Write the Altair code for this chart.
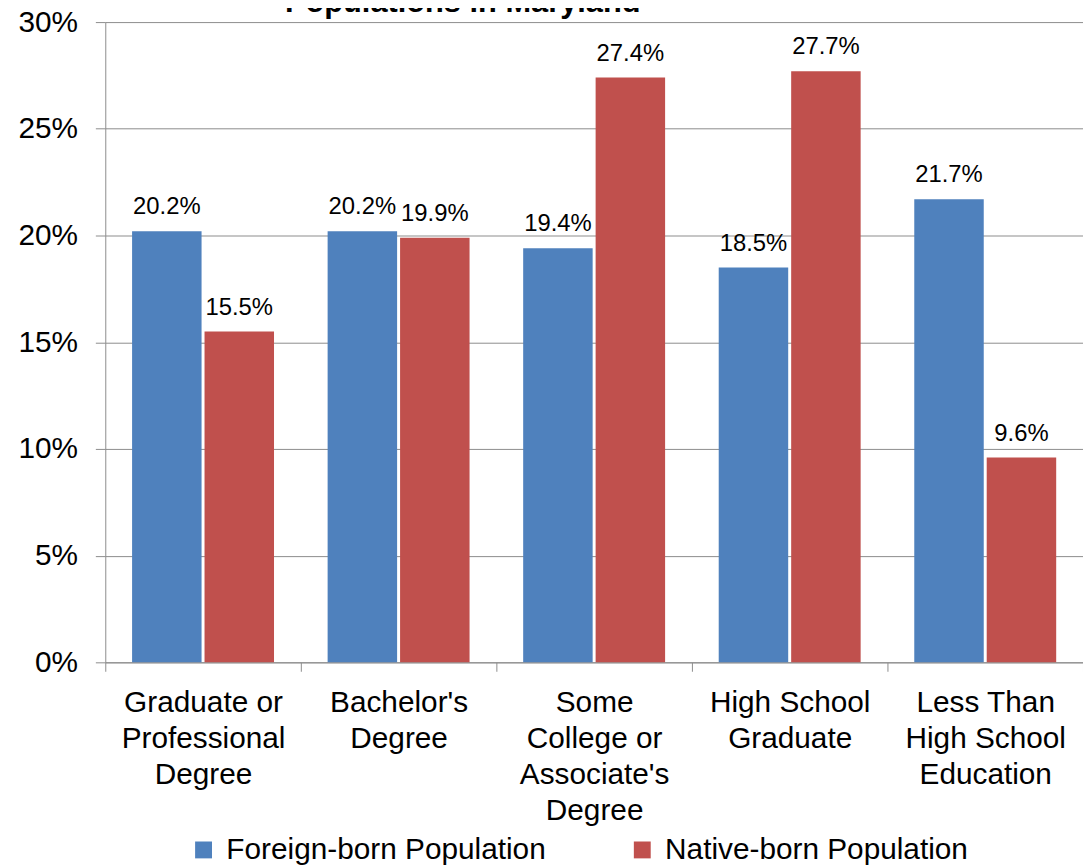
import altair as alt
import pandas as pd

title_text = ["Populations in Maryland"]
categories = [
    "Graduate or\nProfessional\nDegree",
    "Bachelor's\nDegree",
    "Some\nCollege or\nAssociate's\nDegree",
    "High School\nGraduate",
    "Less Than\nHigh School\nEducation",
]
series = ["Foreign-born Population", "Native-born Population"]
foreign = [20.2, 20.2, 19.4, 18.5, 21.7]
native = [15.5, 19.9, 27.4, 27.7, 9.6]
colors = ["#4F81BD", "#C0504D"]
y_ticks = [0, 5, 10, 15, 20, 25, 30]

rows = []
for i, c in enumerate(categories):
    rows.append({"category": c, "series": series[0], "value": foreign[i] / 100})
    rows.append({"category": c, "series": series[1], "value": native[i] / 100})
df = pd.DataFrame(rows)

GRAY = "#8c8c8c"
FONT = "Liberation Sans"

x = alt.X(
    "category:N",
    sort=categories,
    scale=alt.Scale(paddingInner=0, paddingOuter=0),
    axis=alt.Axis(
        title=None,
        labelAngle=0,
        labelExpr="split(datum.label, '\\n')",
        labelFontSize=30,
        labelLineHeight=36,
        labelColor="black",
        labelLimit=400,
        labelPadding=17,
        tickBand="extent",
        tickSize=9,
        tickColor=GRAY,
        domainColor=GRAY,
        grid=False,
    ),
)
xoff = alt.XOffset(
    "series:N", sort=series, scale=alt.Scale(paddingInner=0.041, paddingOuter=0.37)
)
y = alt.Y(
    "value:Q",
    scale=alt.Scale(domain=[0, 0.3], nice=False),
    axis=alt.Axis(
        title=None,
        values=[v / 100 for v in y_ticks],
        format=".0%",
        labelFontSize=30,
        labelColor="black",
        labelPadding=18,
        tickSize=10,
        tickColor=GRAY,
        domainColor=GRAY,
        gridColor=GRAY,
        grid=True,
    ),
)
color = alt.Color(
    "series:N",
    sort=series,
    scale=alt.Scale(domain=series, range=colors),
    legend=alt.Legend(
        title=None,
        orient="none",
        legendX=84,
        legendY=819,
        direction="horizontal",
        symbolType="square",
        symbolSize=289,
        symbolStrokeWidth=0,
        labelFontSize=30,
        labelColor="black",
        labelLimit=500,
        labelOffset=8,
        columnPadding=82,
    ),
)

bars = alt.Chart(df).mark_bar().encode(x=x, xOffset=xoff, y=y, color=color)
labels = alt.Chart(df).mark_text(
    baseline="alphabetic", dy=-17, fontSize=24, color="black"
).encode(x=x, xOffset=xoff, y=y, text=alt.Text("value:Q", format=".1%"))

title_df = pd.DataFrame({"t": title_text})
title_mark = alt.Chart(title_df).mark_text(
    align="left",
    baseline="alphabetic",
    fontSize=31,
    fontWeight="bold",
    color="black",
).encode(text="t:N", x=alt.value(181), y=alt.value(-10))

chart = (
    alt.layer(bars, labels, title_mark)
    .properties(
        width=985,
        height=645,
        autosize=alt.AutoSizeParams(type="none"),
        padding={"left": 98, "top": 11, "right": 0, "bottom": 204},
    )
    .configure(font=FONT)
    .configure_view(stroke=None)
)

chart.save("out.html", embed_options={"renderer": "svg", "actions": False})
